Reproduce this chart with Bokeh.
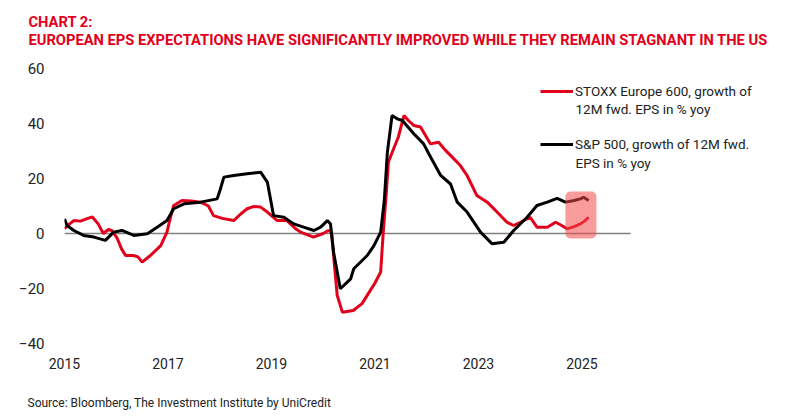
from bokeh.plotting import figure
from bokeh.models import (BoxAnnotation, Label, Legend, LegendItem, FixedTicker, Title)
from bokeh.embed import file_html
from bokeh.resources import INLINE

# ---- data (decimal years, % yoy) ----
stoxx_t = [2015.00, 2015.10, 2015.18, 2015.31, 2015.45, 2015.54, 2015.65, 2015.75, 2015.85, 2015.92,
           2016.02, 2016.10, 2016.18, 2016.33, 2016.42, 2016.50, 2016.66, 2016.86, 2016.98, 2017.05,
           2017.11, 2017.27, 2017.45, 2017.63, 2017.78, 2017.88, 2018.05, 2018.27, 2018.40, 2018.53,
           2018.65, 2018.79, 2018.92, 2019.11, 2019.30, 2019.45, 2019.56, 2019.70, 2019.81, 2020.00,
           2020.10, 2020.16, 2020.20, 2020.27, 2020.37, 2020.58, 2020.75, 2020.85, 2021.00, 2021.11,
           2021.16, 2021.22, 2021.26, 2021.36, 2021.45, 2021.56, 2021.65, 2021.75, 2021.88, 2022.07,
           2022.23, 2022.35, 2022.46, 2022.65, 2022.78, 2022.97, 2023.17, 2023.36, 2023.55, 2023.68,
           2023.81, 2024.00, 2024.13, 2024.33, 2024.49, 2024.60, 2024.71, 2024.85, 2024.97, 2025.05, 2025.13]
stoxx_v = [1.8, 3.5, 4.7, 4.5, 5.5, 6.0, 3.5, 0.0, 1.5, 1.0,
           -1.8, -5.5, -8.0, -8.0, -8.5, -10.4, -8.0, -4.4, 0.5, 6.0,
           10.2, 12.0, 11.8, 11.4, 10.0, 6.5, 5.5, 4.7, 7.0, 9.0,
           9.8, 9.6, 7.8, 4.7, 4.7, 2.0, 0.5, -0.5, -1.3, 0.0,
           1.1, 0.5, -8.0, -22.5, -28.6, -28.0, -25.5, -22.5, -18.0, -14.0,
           0.5, 15.0, 26.0, 30.8, 35.0, 42.9, 41.0, 39.3, 38.7, 32.6,
           33.2, 30.5, 28.4, 24.7, 21.1, 13.8, 11.4, 7.8, 4.1, 2.9,
           4.1, 5.9, 2.3, 2.3, 4.1, 3.0, 1.7, 2.5, 3.5, 4.5, 5.9]

sp_t = [2015.00, 2015.05, 2015.18, 2015.37, 2015.57, 2015.79, 2015.95, 2016.11, 2016.34, 2016.60,
        2016.79, 2016.98, 2017.11, 2017.31, 2017.63, 2017.95, 2018.01, 2018.08, 2018.27, 2018.53,
        2018.79, 2018.92, 2019.04, 2019.24, 2019.43, 2019.62, 2019.82, 2019.95, 2020.08, 2020.14,
        2020.20, 2020.33, 2020.53, 2020.59, 2020.85, 2020.98, 2021.11, 2021.18, 2021.24, 2021.33,
        2021.43, 2021.53, 2021.75, 2021.94, 2022.04, 2022.27, 2022.46, 2022.59, 2022.78, 2023.04,
        2023.26, 2023.49, 2023.68, 2023.94, 2024.13, 2024.33, 2024.52, 2024.68, 2024.85, 2024.97,
        2025.03, 2025.13]
sp_v = [5.3, 2.9, 1.1, -0.7, -1.3, -2.5, 0.5, 1.1, -0.7, -0.1,
        2.3, 4.7, 9.0, 10.8, 11.4, 12.6, 16.0, 20.5, 21.1, 21.7,
        22.3, 18.7, 6.5, 5.9, 3.5, 2.3, 1.1, 2.3, 4.7, 3.5,
        -6.8, -20.1, -16.5, -12.8, -8.0, -4.4, 0.5, 12.0, 29.6, 42.9,
        41.7, 41.1, 36.3, 32.6, 29.0, 21.1, 18.0, 11.4, 7.8, 0.5,
        -3.7, -3.2, 1.1, 5.9, 10.2, 11.4, 12.8, 11.4, 12.0, 12.6,
        13.2, 12.0]

x_ticks = [2015, 2017, 2019, 2021, 2023, 2025]
x_tick_labels = ["2015", "2017", "2019", "2021", "2023", "2025"]
y_ticks = [-40, -20, 0, 20, 40, 60]

x_axis_start, x_axis_end = 2015.0, 2025.94   # extent of the value axis / zero line
x_view_end = 2029.03                           # extra room on the right for the legend

# highlighted latest period
hl_left, hl_right, hl_bottom, hl_top = 2024.68, 2025.28, -1.8, 15.3

# trailing / leading empty lines are used as vertical spacing in the title panels
TITLE = "CHART 2:\nEUROPEAN EPS EXPECTATIONS HAVE SIGNIFICANTLY IMPROVED WHILE THEY REMAIN STAGNANT IN THE US\n"
SOURCE = "\nSource: Bloomberg, The Investment Institute by UniCredit"

RED = "#e2001a"
TXT = "#222222"
FONT = "Roboto"

p = figure(width=800, height=416, x_range=(x_axis_start, x_view_end), y_range=(-40, 60),
           output_backend="svg", toolbar_location=None, title=TITLE,
           min_border_left=64, min_border_right=10, min_border_top=68, min_border_bottom=73)
p.outline_line_color = None
p.grid.visible = False
p.background_fill_color = "white"
p.border_fill_color = "white"

p.title.align = "left"
p.title.offset = -36
p.title.text_font = FONT
p.title.text_font_style = "bold"
p.title.text_font_size = "14.7px"
p.title.text_color = RED
p.title.text_line_height = 1.0
p.title.standoff = 4

p.add_layout(Title(text=SOURCE, align="left", offset=-37, text_font=FONT,
                   text_font_style="normal", text_font_size="12px", text_color=TXT,
                   text_line_height=1.2, standoff=12), "below")

p.xaxis.ticker = FixedTicker(ticks=x_ticks)
p.xaxis.major_label_overrides = {t: s for t, s in zip(x_ticks, x_tick_labels)}
p.yaxis.ticker = FixedTicker(ticks=y_ticks)
for ax in (p.xaxis, p.yaxis):
    ax.axis_line_color = None
    ax.major_tick_line_color = None
    ax.minor_tick_line_color = None
    ax.major_label_text_color = TXT
    ax.major_label_text_font = FONT
p.xaxis.major_label_text_font_size = "14px"
p.xaxis.major_label_standoff = 8
p.yaxis.major_label_text_font_size = "15px"
p.yaxis.major_label_standoff = 14

# zero line across the value axis extent
p.line([x_axis_start, x_axis_end], [0, 0], line_color="#808080", line_width=1.5)

r1 = p.line(stoxx_t, stoxx_v, line_color=RED, line_width=3)
r2 = p.line(sp_t, sp_v, line_color="black", line_width=3)

p.add_layout(BoxAnnotation(left=hl_left, right=hl_right, bottom=hl_bottom, top=hl_top,
                           fill_color="#f04848", fill_alpha=0.55, line_color=None,
                           border_radius=5))

LEG_FONT_SIZE = "13.5px"
legend = Legend(items=[
    LegendItem(label="STOXX Europe 600, growth of", renderers=[r1]),
    LegendItem(label="S&P 500, growth of 12M fwd.", renderers=[r2]),
], location=(476, 190), glyph_width=33, glyph_height=18, label_height=18,
    label_standoff=2, padding=0, margin=0, spacing=35,
    border_line_color=None, background_fill_alpha=0,
    label_text_font=FONT, label_text_font_size=LEG_FONT_SIZE, label_text_color=TXT)
p.add_layout(legend)

for txt, y in (("12M fwd. EPS in % yoy", 234.7), ("EPS in % yoy", 180.7)):
    p.add_layout(Label(x=511, y=y, x_units="screen", y_units="screen", text=txt,
                       text_font=FONT, text_font_size=LEG_FONT_SIZE,
                       text_color=TXT, text_baseline="middle"))

open("out.html", "w").write(file_html(p, INLINE))
